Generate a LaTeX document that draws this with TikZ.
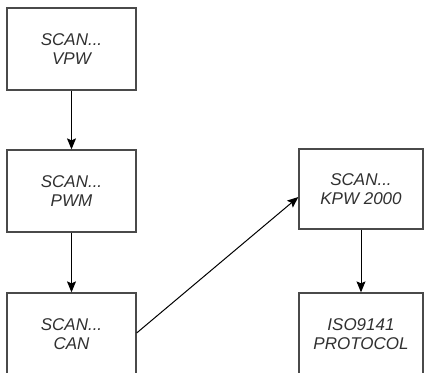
\documentclass[tikz,border=0pt]{standalone}
\usepackage{fontspec}
\setmainfont{Liberation Sans}
\usetikzlibrary{arrows.meta,calc}
\begin{document}
\begin{tikzpicture}[x=1pt,y=-1pt,
  box/.style={draw=boxgray,line width=1.3pt,minimum width=129pt,minimum height=82pt,
    inner sep=0pt,align=center,text=textgray,font=\fontsize{17}{19}\selectfont\itshape},
  conn/.style={line width=1pt,-{Stealth[length=11pt,width=9pt,inset=2pt]}}]
\definecolor{boxgray}{HTML}{4A4A4A}
\definecolor{textgray}{HTML}{303030}
\useasboundingbox (0,0) rectangle (424,373);
\clip (0,0) rectangle (424,373);
\node[box] (vpw) at (71.5,49) {SCAN...\\VPW};
\node[box] (pwm) at (71.5,191) {SCAN...\\PWM};
\node[box] (can) at (71.5,334) {SCAN...\\CAN};
\node[box,minimum width=124pt,minimum height=80pt] (kpw) at (361,189) {SCAN...\\KPW 2000};
\node[box,minimum width=124pt] (iso) at (361,334) {ISO9141\\PROTOCOL};
\draw[conn] (vpw) -- (pwm);
\draw[conn] (pwm) -- (can);
\draw[conn] (kpw) -- (iso);
\draw[conn] ($(can.east)+(0,-1)$) -- ($(kpw.west)+(0,8)$);
\end{tikzpicture}
\end{document}
